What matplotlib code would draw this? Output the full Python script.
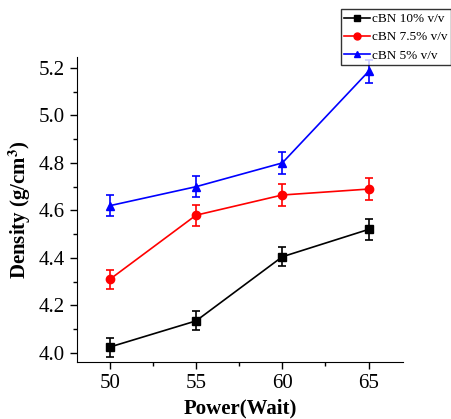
import matplotlib
matplotlib.use("Agg")
import matplotlib.pyplot as plt
from matplotlib.lines import Line2D
from matplotlib.ticker import MultipleLocator

plt.rcParams['font.family'] = ['Liberation Serif', 'DejaVu Serif']
plt.rcParams['mathtext.fontset'] = 'stix'

# data
power = [50, 55, 60, 65]
density_10 = [4.025, 4.135, 4.405, 4.52]
density_7_5 = [4.31, 4.58, 4.665, 4.69]
density_5 = [4.62, 4.70, 4.80, 5.185]
err_10 = [0.04, 0.04, 0.04, 0.045]
err_7_5 = [0.04, 0.045, 0.045, 0.045]
err_5 = [0.045, 0.045, 0.045, 0.05]

labels = ['cBN 10% v/v', 'cBN 7.5% v/v', 'cBN 5% v/v']

fig = plt.figure(figsize=(4.52, 4.19), dpi=100)
ax = fig.add_axes([0.1704, 0.136, 0.7212, 0.728])

series = [
    (density_10, err_10, 'black', 's'),
    (density_7_5, err_7_5, 'red', 'o'),
    (density_5, err_5, 'blue', '^'),
]
handles = []
for values, errors, color, marker in series:
    ax.errorbar(power, values, yerr=errors, color=color, marker=marker,
                markersize=6, linewidth=1.2, elinewidth=1.2, capsize=3,
                capthick=1.2)
    # legend shows plain line + marker, no error bar
    handles.append(Line2D([], [], color=color, marker=marker, markersize=5,
                          linewidth=1.2))

ax.set_xlim(48.1, 67.0)
ax.set_ylim(3.962, 5.246)
ax.xaxis.set_major_locator(MultipleLocator(5))
ax.xaxis.set_minor_locator(MultipleLocator(2.5))
ax.yaxis.set_major_locator(MultipleLocator(0.2))
ax.yaxis.set_minor_locator(MultipleLocator(0.1))
ax.yaxis.set_major_formatter(plt.FormatStrFormatter('%.1f'))

ax.spines['top'].set_visible(False)
ax.spines['right'].set_visible(False)
ax.tick_params(which='major', direction='out', length=5, width=1, labelsize=15)
ax.tick_params(which='minor', direction='out', length=3, width=1)

ax.set_xlabel('Power(Wait)', fontsize=15, fontweight='bold', labelpad=4)
ax.set_ylabel(r'Density (g/cm$^\mathbf{3}$)', fontsize=15, fontweight='bold', labelpad=4)

leg = fig.legend(handles=handles, labels=labels, loc='upper right',
                 bbox_to_anchor=(451 / 452, 1 - 9 / 419), fontsize=9.5,
                 frameon=True, fancybox=False, edgecolor='black',
                 handlelength=1.9, handletextpad=0.15, labelspacing=0.45,
                 borderpad=0.3, borderaxespad=0)
leg.get_frame().set_linewidth(1.0)

fig.savefig('out.png', dpi=100)
